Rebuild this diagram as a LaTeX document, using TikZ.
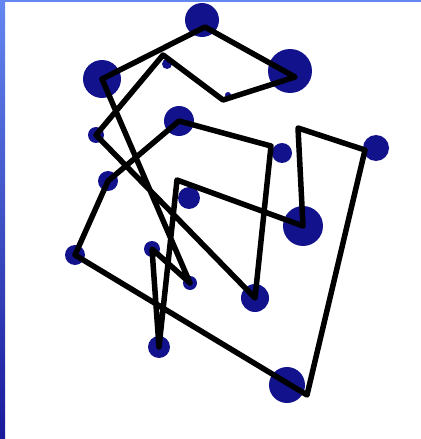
\documentclass[tikz,border=0pt]{standalone}
\usepackage{tikz}

\definecolor{dotblue}{RGB}{18,18,140}
\definecolor{rimlight}{RGB}{100,135,240}
\definecolor{rimmid}{RGB}{48,62,205}
\definecolor{rimdark}{RGB}{26,26,155}

\begin{document}
\begin{tikzpicture}[x=0.02cm,y=-0.02cm,
    dot/.style={circle,fill=dotblue,inner sep=0pt},
    tour/.style={line width=0.11cm,line join=round,black}]
    \useasboundingbox (0,0) rectangle (421,439);
    % frame of the slide
    \fill[rimlight] (0,0) rectangle (421,2.5);
    \shade[top color=rimlight,middle color=rimmid,bottom color=rimdark] (0,0) rectangle (5,439);

    % towns, size = radius in px
    \foreach \n/\x/\y/\r in {a/202/20/17, b/102/79/19, c/290/71/22, d/179/121/15,
        e/96/135/8, f/282/153/10, g/376/148/13, h/108/181/10, i/189/198/11,
        j/303/226/20, k/75/255/10, l/152/249/8, m/190/283/7, n/255/298/14,
        o/159/347/11, p/287/385/18, s/167/64/5, t/228/95/3}
        \node[dot,minimum size=\r*0.4mm] (\n) at (\x,\y) {};

    % corners of the route
    \coordinate (ac) at (205,27);
    \coordinate (cc) at (295,77);
    \coordinate (tc) at (223,100);
    \coordinate (sc) at (163,55);
    \coordinate (fc) at (271,146);
    \coordinate (pc) at (307,395);
    \coordinate (gc) at (365,150);
    \coordinate (jc) at (298,128);
    \coordinate (ic) at (177,180);

    \draw[tour] (ac) -- (cc) -- (tc) -- (sc) -- (e.center) -- (n.center) -- (fc)
        -- (d.center) -- (h.center) -- (k.center) -- (pc) -- (gc) -- (jc)
        -- (j.center) -- (ic) -- (o.center) -- (l.center) -- (m.center)
        -- (b.center) -- cycle;
\end{tikzpicture}
\end{document}
